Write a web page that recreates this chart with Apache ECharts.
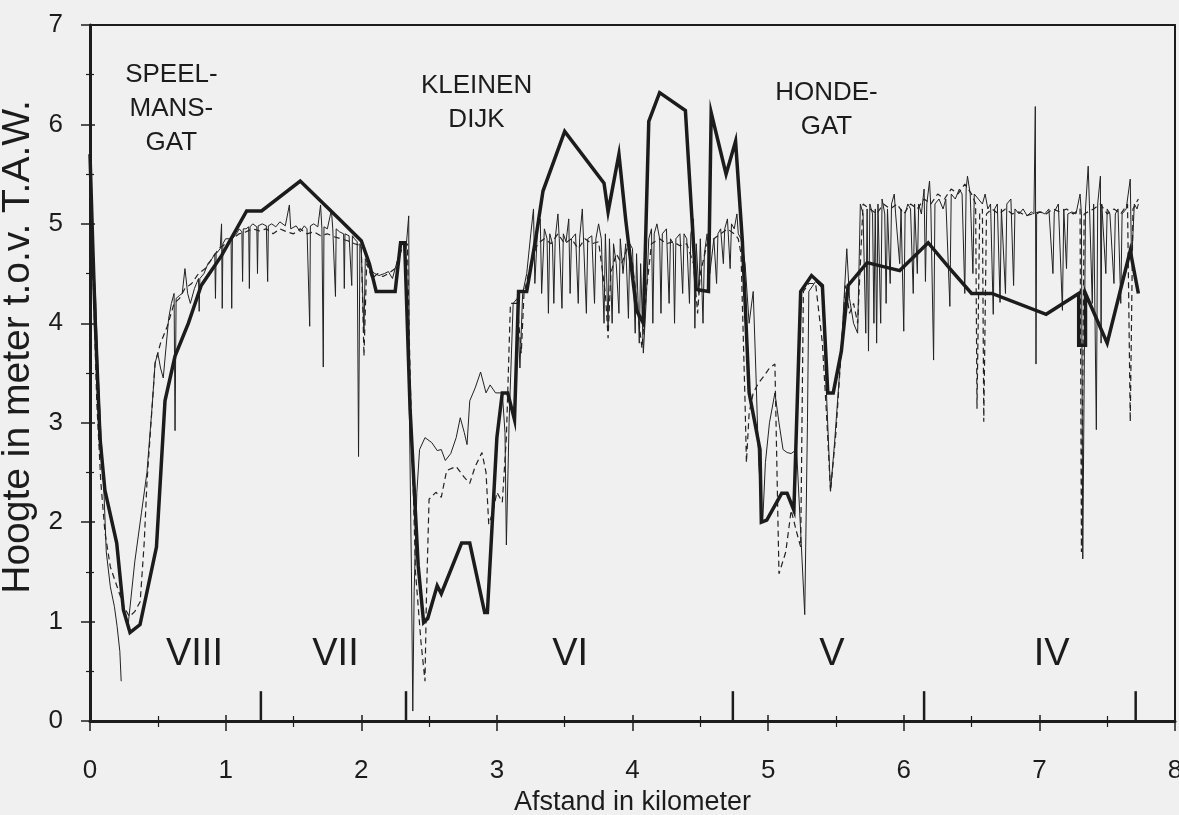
<!DOCTYPE html>
<html><head><meta charset="utf-8">
<script src="https://cdn.jsdelivr.net/npm/echarts/dist/echarts.min.js"></script>
<style>html,body{margin:0;padding:0;background:#f0f0f0}#c{width:1179px;height:815px}</style>
</head><body><div id="c"></div>
<script>
// Thick profile (coarse survey)
const thickProfile = [
[0,5.7],[0.02,4.8],[0.04,3.97],[0.074,2.84],[0.11,2.32],[0.197,1.79],[0.246,1.12],[0.295,0.89],[0.369,0.97],[0.49,1.75],[0.553,3.22],[0.627,3.67],[0.725,4.0],[0.82,4.38],[0.97,4.68],[1.155,5.13],[1.265,5.13],[1.55,5.43],[1.83,5.06],[2.0,4.83],[2.06,4.6],[2.11,4.32],[2.25,4.32],[2.29,4.81],[2.32,4.81],[2.36,3.14],[2.42,1.56],[2.46,0.99],[2.49,1.03],[2.56,1.36],[2.59,1.28],[2.74,1.79],[2.80,1.79],[2.91,1.09],[2.93,1.09],[3.0,2.85],[3.04,3.30],[3.08,3.30],[3.13,3.03],[3.16,4.32],[3.22,4.32],[3.29,4.88],[3.34,5.33],[3.50,5.93],[3.79,5.41],[3.82,5.12],[3.90,5.70],[3.95,5.04],[4.03,4.13],[4.08,4.0],[4.12,6.03],[4.20,6.32],[4.39,6.14],[4.47,4.34],[4.56,4.32],[4.58,6.12],[4.69,5.50],[4.76,5.83],[4.81,4.83],[4.86,3.30],[4.94,2.73],[4.95,2.0],[4.99,2.02],[5.10,2.29],[5.14,2.29],[5.19,2.12],[5.24,4.32],[5.32,4.48],[5.40,4.38],[5.44,3.30],[5.48,3.30],[5.54,3.72],[5.59,4.38],[5.73,4.61],[5.97,4.53],[6.18,4.81],[6.34,4.55],[6.50,4.30],[6.65,4.30],[7.05,4.09],[7.29,4.30],[7.29,3.78],[7.34,3.78],[7.34,4.30],[7.50,3.80],[7.67,4.73],[7.73,4.30]
];
// Thin solid profile (detailed survey)
const thinProfile = [
[0,5.7],[0.01,5.2],[0.02,4.7],[0.04,4.3],[0.06,3.5],[0.08,2.9],[0.1,2.4],[0.12,1.7],[0.15,1.35],[0.18,1.15],[0.2,0.95],[0.22,0.7],[0.23,0.4],[0.25,'-'],
[0.28,0.95],[0.33,1.6],[0.38,2.1],[0.42,2.5],[0.46,3.2],[0.48,3.6],[0.5,3.7],[0.52,3.55],[0.54,3.45],[0.56,3.75],[0.58,4.05],[0.6,4.2],[0.62,4.3],[0.627,2.92],[0.635,4.25],[0.66,4.28],[0.68,4.3],[0.7,4.55],[0.72,4.3],[0.74,4.2],[0.77,4.35],[0.8,4.45],[0.805,4.12],[0.81,4.45],[0.84,4.5],[0.87,4.6],[0.9,4.65],[0.92,4.7],[0.925,4.25],[0.93,4.7],[0.96,4.75],[0.97,5.0],[0.975,4.15],[0.98,4.8],[1.0,4.85],[1.04,4.85],[1.045,4.15],[1.05,4.85],[1.08,4.9],[1.1,4.95],[1.12,4.92],[1.125,4.42],[1.13,4.95],[1.15,4.95],[1.17,4.97],[1.175,4.35],[1.18,4.97],[1.2,5.0],[1.23,4.97],[1.235,4.5],[1.24,4.98],[1.27,5.0],[1.3,4.98],[1.31,4.42],[1.315,4.98],[1.34,5.0],[1.37,4.97],[1.4,5.02],[1.44,4.98],[1.47,5.19],[1.48,4.95],[1.52,4.98],[1.55,4.92],[1.58,4.98],[1.6,4.95],[1.62,3.97],[1.625,4.98],[1.65,5.0],[1.68,4.97],[1.7,5.19],[1.71,4.95],[1.72,3.56],[1.725,4.97],[1.75,4.95],[1.78,5.14],[1.79,4.95],[1.81,4.27],[1.815,4.95],[1.84,4.92],[1.87,4.9],[1.875,4.35],[1.88,4.9],[1.91,4.88],[1.93,4.38],[1.935,4.88],[1.95,4.85],[1.97,4.82],[1.98,2.66],[1.99,4.8],[2.0,4.75],[2.02,3.9],[2.03,4.65],[2.06,4.55],[2.1,4.5],[2.13,4.48],[2.17,4.5],[2.2,4.52],[2.23,4.45],[2.25,4.55],[2.27,4.65],[2.3,4.8],[2.33,4.75],[2.35,5.08],[2.355,3.1],[2.37,1.5],[2.38,0.1],[2.39,1.3],[2.41,2.3],[2.43,2.73],[2.47,2.85],[2.52,2.8],[2.56,2.72],[2.59,2.73],[2.62,2.62],[2.66,2.69],[2.7,2.85],[2.73,3.05],[2.76,2.9],[2.78,2.78],[2.8,3.22],[2.84,3.35],[2.88,3.51],[2.92,3.3],[2.95,3.38],[2.99,3.3],[3.04,3.3],[3.06,2.9],[3.07,1.77],[3.09,3.0],[3.12,4.2],[3.15,4.25],[3.17,3.55],[3.19,4.3],[3.22,4.5],[3.25,4.9],[3.27,5.15],[3.28,4.4],[3.3,4.95],[3.32,5.05],[3.33,4.3],[3.35,4.95],
[3.37,4.85],[3.38,4.1],[3.39,4.9],[3.41,4.8],[3.42,4.2],[3.43,4.85],[3.45,5.1],[3.46,4.85],[3.48,4.15],[3.49,4.9],[3.51,4.82],[3.53,5.05],[3.54,4.3],[3.55,4.85],[3.58,4.9],[3.6,4.2],[3.61,4.85],[3.63,5.15],[3.64,4.8],[3.66,4.1],[3.67,4.85],[3.7,4.88],[3.72,4.2],[3.73,4.85],[3.75,5.0],[3.77,4.85],[3.79,4.0],[3.8,4.9],[3.82,3.95],[3.83,4.85],[3.85,4.0],[3.86,4.8],[3.88,4.6],[3.9,4.1],[3.91,4.85],[3.93,4.5],[3.95,4.8],[3.97,4.05],[3.98,4.8],[4.0,4.75],[4.02,3.9],[4.03,4.7],[4.05,3.8],[4.06,4.6],[4.08,3.7],[4.1,4.2],[4.12,4.85],[4.14,4.95],[4.15,4.0],[4.16,4.9],[4.18,5.0],[4.2,4.85],[4.21,4.1],[4.22,4.9],[4.25,4.95],[4.27,4.2],[4.28,4.85],[4.3,4.8],[4.31,4.0],[4.32,4.85],[4.35,4.9],[4.37,4.3],[4.38,4.9],[4.4,4.85],[4.42,4.2],[4.43,4.9],[4.45,5.05],[4.46,3.95],[4.47,4.8],[4.49,4.3],[4.5,4.85],[4.52,4.0],[4.53,4.7],[4.55,4.9],[4.57,4.5],[4.6,4.85],[4.62,4.4],[4.63,4.9],[4.65,4.95],[4.67,4.6],[4.68,4.95],[4.7,5.05],[4.72,4.55],[4.73,5.0],[4.75,4.95],[4.77,5.1],[4.78,4.9],
[4.8,4.85],[4.83,4.6],[4.86,4.0],[4.89,4.32],[4.91,3.5],[4.93,2.6],[4.96,2.0],[4.98,2.6],[5.01,3.0],[5.05,3.3],[5.08,3.0],[5.11,2.73],[5.14,2.7],[5.17,2.69],[5.21,2.73],[5.24,1.9],[5.27,1.07],[5.29,3.0],[5.3,4.32],[5.35,4.42],[5.4,4.35],[5.43,3.3],[5.46,2.31],[5.49,2.8],[5.54,3.75],[5.58,4.75],[5.6,4.25],[5.63,4.0],[5.66,3.9],[5.68,5.2],
[5.7,5.1],[5.72,3.9],[5.73,5.15],[5.74,3.72],[5.75,5.2],[5.77,5.1],[5.78,4.0],[5.79,5.15],[5.8,3.8],[5.81,5.2],[5.83,4.0],[5.84,5.25],[5.86,5.1],[5.87,4.2],[5.88,5.15],[5.9,4.4],[5.91,5.2],[5.93,5.3],[5.94,5.1],[5.97,4.6],[5.98,5.15],[6.0,3.92],[6.01,5.1],[6.03,5.2],[6.05,5.15],[6.07,4.3],[6.08,5.2],[6.1,4.5],[6.11,5.2],[6.13,5.1],[6.15,5.35],[6.16,4.42],[6.17,5.2],[6.19,5.43],[6.2,5.15],[6.22,3.63],[6.23,5.2],[6.26,5.25],[6.29,5.15],[6.31,5.25],[6.34,4.17],[6.35,5.3],[6.38,5.25],[6.41,5.35],[6.43,5.3],[6.45,4.3],[6.46,5.35],[6.47,5.48],[6.49,5.3],[6.51,4.5],[6.52,5.3],[6.55,5.25],[6.58,5.2],[6.6,5.3],[6.62,5.15],[6.64,5.2],[6.66,4.09],[6.67,5.15],[6.69,5.2],[6.71,4.21],[6.72,5.15],[6.75,4.3],[6.76,5.2],[6.79,5.25],[6.81,4.38],[6.82,5.15],[6.85,5.1],[6.88,5.15],[6.91,5.08],[6.94,5.12],[6.96,5.1],[6.97,6.18],[6.975,3.59],[6.98,5.1],[7.01,5.12],[7.04,5.1],[7.07,5.15],[7.1,4.5],[7.11,5.12],[7.14,5.2],[7.17,4.13],[7.18,5.15],[7.2,4.55],[7.21,5.1],[7.24,5.12],[7.27,5.1],[7.3,5.3],[7.31,5.1],[7.32,1.63],[7.34,5.15],[7.36,5.58],[7.37,5.15],[7.39,4.2],[7.4,5.2],[7.42,2.93],[7.43,5.2],[7.45,5.48],[7.455,3.8],[7.46,5.2],[7.49,4.5],[7.5,5.15],[7.52,5.1],[7.55,4.4],[7.56,5.1],[7.58,5.15],[7.6,4.2],[7.61,5.1],[7.64,5.15],[7.67,5.45],[7.68,4.6],[7.7,5.2],[7.72,5.15],[7.73,5.2]
];
// Dashed profile (second detailed survey)
const dashedProfile = [
[0,5.5],[0.02,4.6],[0.05,3.2],[0.08,2.4],[0.11,1.9],[0.15,1.55],[0.2,1.35],[0.25,1.15],[0.29,1.05],[0.33,1.1],[0.37,1.2],[0.4,1.8],[0.42,2.4],[0.45,3.0],[0.48,3.6],[0.52,3.8],[0.57,3.97],[0.62,4.2],[0.66,4.25],[0.7,4.35],[0.75,4.4],[0.8,4.5],[0.85,4.55],[0.9,4.65],[0.95,4.75],[1.0,4.8],[1.05,4.85],[1.1,4.9],[1.15,4.92],[1.2,4.95],[1.25,4.93],[1.3,4.95],[1.35,4.9],[1.4,4.95],[1.45,4.92],[1.5,4.9],[1.55,4.95],[1.6,4.9],[1.65,4.92],[1.7,4.88],[1.75,4.9],[1.8,4.87],[1.85,4.85],[1.9,4.83],[1.95,4.8],[2.0,4.78],[2.02,3.67],[2.04,4.6],[2.08,4.45],[2.12,4.5],[2.16,4.47],[2.2,4.5],[2.25,4.55],[2.3,4.75],[2.34,4.8],[2.36,3.5],[2.4,1.5],[2.44,0.8],[2.47,0.4],[2.48,1.2],[2.5,2.23],[2.55,2.3],[2.59,2.25],[2.63,2.52],[2.7,2.56],[2.76,2.45],[2.8,2.39],[2.84,2.56],[2.89,2.7],[2.92,2.5],[2.94,1.98],[2.97,2.1],[3.0,2.3],[3.04,2.2],[3.07,2.85],[3.1,4.2],[3.15,4.2],[3.18,3.7],[3.2,4.3],[3.25,4.6],[3.3,4.8],
[3.35,4.85],[3.4,4.8],[3.45,4.9],[3.5,4.8],[3.55,4.85],[3.6,4.75],[3.65,4.85],[3.7,4.8],[3.75,4.82],[3.8,4.3],[3.82,3.85],[3.84,4.5],[3.88,4.7],[3.92,4.6],[3.96,4.75],[4.0,4.6],[4.04,4.1],[4.07,3.75],[4.1,4.3],[4.14,4.8],[4.2,4.85],[4.25,4.8],[4.3,4.82],[4.35,4.78],[4.4,4.8],[4.45,4.6],[4.48,4.1],[4.5,4.5],[4.55,4.8],[4.6,4.85],[4.65,4.9],[4.7,4.95],[4.75,4.9],[4.78,4.85],
[4.8,4.7],[4.83,3.2],[4.84,2.6],[4.86,3.1],[4.89,3.3],[4.93,3.4],[4.97,3.47],[5.01,3.55],[5.05,3.59],[5.08,1.48],[5.13,1.7],[5.17,2.12],[5.21,1.9],[5.24,1.75],[5.26,4.32],[5.3,4.4],[5.35,4.4],[5.4,3.8],[5.43,3.1],[5.46,2.31],[5.5,2.9],[5.57,4.38],[5.6,4.1],[5.63,4.2],[5.66,4.0],[5.7,5.2],
[5.75,5.15],[5.8,5.1],[5.85,5.2],[5.9,5.15],[5.95,5.2],[6.0,5.1],[6.05,5.2],[6.1,5.15],[6.15,5.25],[6.2,5.2],[6.25,5.3],[6.3,5.25],[6.35,5.35],[6.4,5.3],[6.45,5.4],[6.5,5.3],[6.53,5.2],[6.54,3.14],[6.56,5.1],[6.58,5.15],[6.59,3.01],[6.61,5.1],[6.65,5.15],[6.7,5.1],[6.75,5.15],[6.8,5.1],[6.85,5.12],[6.9,5.08],[6.95,5.1],[7.0,5.12],[7.05,5.1],[7.1,5.15],[7.15,5.12],[7.2,5.15],[7.25,5.1],[7.3,5.15],[7.31,1.7],[7.33,5.1],[7.4,5.15],[7.45,5.2],[7.5,5.1],[7.55,5.15],[7.6,5.1],[7.65,5.2],[7.67,3.01],[7.69,5.15],[7.73,5.25]
];
// Section boundary markers (km) and their height (m)
const sectionBounds = [1.26, 2.33, 4.74, 6.15, 7.71];
const sectionMarkHeight = 0.3;
// Section numerals
const sectionNames = ['VIII','VII','VI','V','IV'];
const sectionLabelX = [0.77, 1.81, 3.54, 5.47, 7.09];
const sectionLabelY = 0.67;
// Place names
const placeNames = ['SPEEL-\nMANS-\nGAT', 'KLEINEN\nDIJK', 'HONDE-\nGAT'];
const placeX = [0.6, 2.85, 5.43];
const placeY = [6.16, 6.22, 6.15];

const FONT = 'Liberation Sans, Arial, sans-serif';
const INK = '#1c1c1c';

const chart = echarts.init(document.getElementById('c'), null, {renderer:'canvas'});
const axX = {type:'value', min:0, max:8, interval:1};
const axY = {type:'value', min:0, max:7, interval:1};
chart.setOption({
  backgroundColor:'#f0f0f0',
  animation:false,
  grid:{left:90, right:4, top:25, bottom:94, show:false, containLabel:false, outerBoundsMode:'none'},
  xAxis:[
    Object.assign({}, axX, {position:'bottom',
      axisLine:{show:true, onZero:false, lineStyle:{color:INK, width:3}},
      axisTick:{show:true, inside:false, length:10, lineStyle:{color:INK, width:1.5}},
      minorTick:{show:true, splitNumber:2, length:6, lineStyle:{color:INK, width:1.2}},
      axisLabel:{margin:37, color:INK, fontSize:26, fontFamily:FONT},
      splitLine:{show:false},
      name:'Afstand in kilometer', nameLocation:'middle', nameGap:64,
      nameTextStyle:{color:INK, fontSize:27, fontFamily:FONT}}),
    Object.assign({}, axX, {position:'bottom',
      axisLine:{show:false, onZero:false},
      axisTick:{show:true, inside:true, length:6, lineStyle:{color:INK, width:1.5}},
      minorTick:{show:true, splitNumber:2, length:5, lineStyle:{color:INK, width:1.2}},
      axisLabel:{show:false}, splitLine:{show:false}}),
    Object.assign({}, axX, {position:'top',
      axisLine:{show:true, onZero:false, lineStyle:{color:INK, width:2}},
      axisTick:{show:false}, axisLabel:{show:false}, splitLine:{show:false}})
  ],
  yAxis:[
    Object.assign({}, axY, {position:'left',
      axisLine:{show:true, onZero:false, lineStyle:{color:INK, width:3}},
      axisTick:{show:true, inside:false, length:9, lineStyle:{color:INK, width:1.5}},
      minorTick:{show:true, splitNumber:2, length:4, lineStyle:{color:INK, width:1.2}},
      axisLabel:{margin:27, color:INK, fontSize:26, fontFamily:FONT},
      splitLine:{show:false},
      name:'Hoogte in meter t.o.v. T.A.W.', nameLocation:'middle', nameGap:37, nameRotate:90,
      nameTextStyle:{color:INK, fontSize:39, fontFamily:FONT, padding:[0,0,0,52]}}),
    Object.assign({}, axY, {position:'left',
      axisLine:{show:false, onZero:false},
      axisTick:{show:true, inside:true, length:5, lineStyle:{color:INK, width:1.5}},
      minorTick:{show:true, splitNumber:2, length:4, lineStyle:{color:INK, width:1.2}},
      axisLabel:{show:false}, splitLine:{show:false}}),
    Object.assign({}, axY, {position:'right',
      axisLine:{show:true, onZero:false, lineStyle:{color:INK, width:2}},
      axisTick:{show:false}, axisLabel:{show:false}, splitLine:{show:false}})
  ],
  series:[
    {type:'line', name:'detail', data:thinProfile, showSymbol:false, symbol:'none',
     lineStyle:{color:'#222', width:1}, z:3},
    {type:'line', name:'dashed', data:dashedProfile, showSymbol:false, symbol:'none',
     lineStyle:{color:'#222', width:1.2, type:[6,4]}, z:3},
    {type:'line', name:'thick', data:thickProfile, showSymbol:false, symbol:'none',
     lineStyle:{color:INK, width:3.5, join:'miter'}, z:4},
    {type:'bar', data:sectionBounds.map(x => [x, sectionMarkHeight]), barWidth:2.5,
     itemStyle:{color:INK}, z:5},
    {type:'scatter', symbolSize:0, z:6, itemStyle:{opacity:1},
     data:sectionNames.map((n,i)=>({name:n, value:[sectionLabelX[i], sectionLabelY]})),
     label:{show:true, position:'inside', formatter:p=>p.name, color:INK, opacity:1, fontSize:38, fontFamily:FONT}},
    {type:'scatter', symbolSize:0, z:6, itemStyle:{opacity:1},
     data:placeNames.map((n,i)=>({name:n, value:[placeX[i], placeY[i]]})),
     label:{show:true, position:'inside', formatter:p=>p.name, color:INK, opacity:1, fontSize:26, lineHeight:34, fontFamily:FONT, align:'center'}}
  ]
});
</script></body></html>
